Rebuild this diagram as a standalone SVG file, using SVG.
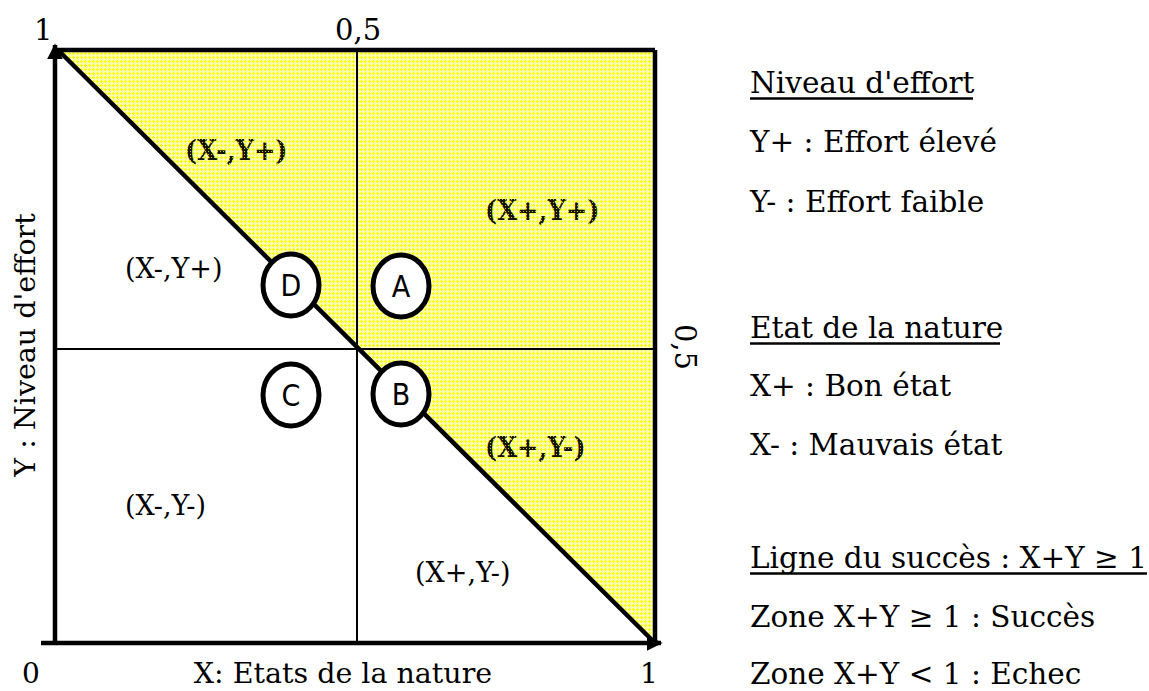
<svg xmlns="http://www.w3.org/2000/svg" width="1149" height="691" viewBox="0 0 1149 691">
<defs>
<style>
.ser{font-family:"DejaVu Serif",serif;fill:#000}
.leg{font-family:"DejaVu Serif",serif;font-size:29.5px;fill:#000}
.area{font-family:"DejaVu Serif",serif;font-size:27px;fill:#000}
.bold{font-family:"DejaVu Serif Condensed","DejaVu Serif",serif;font-stretch:condensed;font-size:28.5px;font-weight:bold;fill:url(#stip)}
.circ ellipse{fill:#fff;stroke:#000;stroke-width:5}
.circ text{font-family:"DejaVu Sans Condensed","DejaVu Sans",sans-serif;font-stretch:condensed;font-size:30px;fill:#000;text-anchor:middle}
.thick{stroke:#000;stroke-width:4.5;fill:none}
.thin{stroke:#000;stroke-width:2;fill:none}
.ul{stroke:#000;stroke-width:2.5}
</style>
<pattern id="yel" width="4" height="4" patternUnits="userSpaceOnUse">
<rect width="4" height="4" fill="#ffffb0"/>
<rect x="0" y="1" width="3" height="1" fill="#ffff00"/>
<rect x="1" y="0" width="1" height="3" fill="#ffff00"/>
</pattern>
<pattern id="stip" width="3" height="3" patternUnits="userSpaceOnUse">
<rect width="3" height="3" fill="#141400"/>
<rect x="1" y="1" width="1" height="1" fill="#c8c800"/>
</pattern>
<marker id="ah" viewBox="0 0 10 10" refX="9" refY="5" markerWidth="3.5" markerHeight="3.5" orient="auto" markerUnits="strokeWidth">
<path d="M0,0 L10,5 L0,10 z" fill="#000"/>
</marker>
</defs>
<rect width="1149" height="691" fill="#fff"/>
<g id="zone-succes">
<polygon points="58,50 655,50 655,643" fill="url(#yel)"/>
</g>
<g id="connectors">
<line class="thin" x1="357" y1="50" x2="357" y2="643"/>
<line class="thin" x1="55" y1="349" x2="655" y2="349"/>
<line class="thick" x1="55" y1="50" x2="655" y2="50"/>
<line class="thick" x1="655" y1="50" x2="655" y2="643"/>
<line class="thick" x1="58" y1="50" x2="655" y2="643"/>
<line class="thick" x1="55" y1="645" x2="55" y2="45" marker-end="url(#ah)"/>
<line class="thick" x1="41" y1="643" x2="661" y2="643" marker-end="url(#ah)"/>
</g>
<g id="axis-labels">
<text class="ser" x="34" y="40" font-size="29">1</text>
<text class="ser" x="335" y="40" font-size="29">0,5</text>
<text class="ser" x="22" y="683" font-size="28">0</text>
<text class="ser" x="640" y="683" font-size="28">1</text>
<text class="ser" x="343" y="683" font-size="28.5" text-anchor="middle">X: Etats de la nature</text>
<text class="ser" transform="translate(35,345) rotate(-90)" font-size="28.5" text-anchor="middle">Y : Niveau d'effort</text>
<text class="ser" transform="translate(675,347) rotate(90)" font-size="29" text-anchor="middle">0,5</text>
</g>
<g id="area-labels">
<text class="bold" x="185" y="160">(X-,Y+)</text>
<text class="bold" x="485" y="220">(X+,Y+)</text>
<text class="bold" x="485" y="457">(X+,Y-)</text>
<text class="area" x="125" y="278">(X-,Y+)</text>
<text class="area" x="125" y="515">(X-,Y-)</text>
<text class="area" x="415" y="582">(X+,Y-)</text>
</g>
<g id="node-D" class="circ"><ellipse cx="291" cy="285" rx="28" ry="31"/><text x="291" y="296">D</text></g>
<g id="node-A" class="circ"><ellipse cx="401" cy="286" rx="28" ry="31"/><text x="401" y="297">A</text></g>
<g id="node-C" class="circ"><ellipse cx="291" cy="395" rx="28" ry="31"/><text x="291" y="406">C</text></g>
<g id="node-B" class="circ"><ellipse cx="401" cy="394" rx="28" ry="31"/><text x="401" y="405">B</text></g>
<g id="legend">
<text class="leg" x="750" y="93">Niveau d'effort</text>
<line class="ul" x1="750" y1="98.5" x2="973" y2="98.5"/>
<text class="leg" x="750" y="152">Y+ : Effort élevé</text>
<text class="leg" x="750" y="212">Y- : Effort faible</text>
<text class="leg" x="750" y="338">Etat de la nature</text>
<line class="ul" x1="750" y1="343.5" x2="1000" y2="343.5"/>
<text class="leg" x="750" y="396">X+ : Bon état</text>
<text class="leg" x="750" y="455">X- : Mauvais état</text>
<text class="leg" x="750" y="568">Ligne du succès : X+Y ≥ 1</text>
<line class="ul" x1="750" y1="573.5" x2="1147" y2="573.5"/>
<text class="leg" x="750" y="627">Zone X+Y ≥ 1 : Succès</text>
<text class="leg" x="750" y="684">Zone X+Y &lt; 1 : Echec</text>
</g>
</svg>
